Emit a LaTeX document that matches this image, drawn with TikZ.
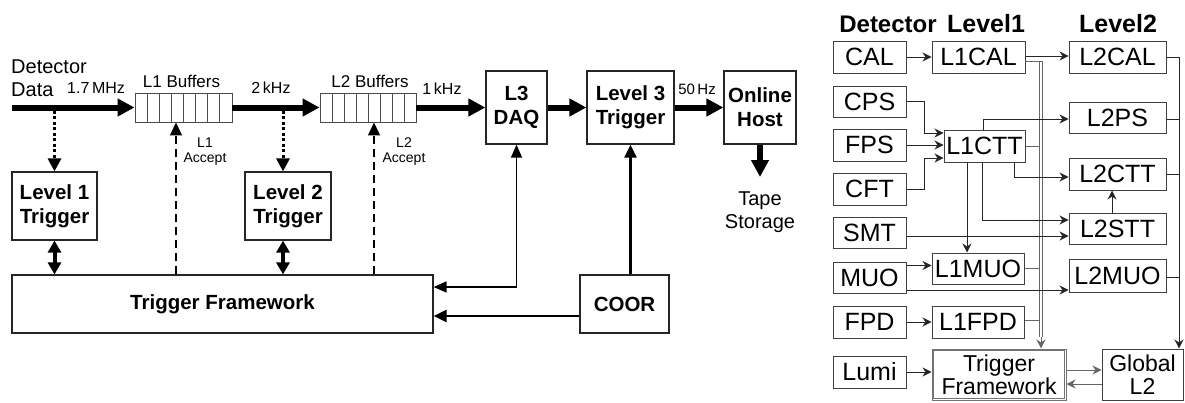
\documentclass[tikz,border=0pt]{standalone}
\usepackage{fontspec}
\setmainfont{Liberation Sans}
\usetikzlibrary{arrows.meta}
\begin{document}
\begin{tikzpicture}[x=1pt,y=-1pt,
 lbox/.style={draw=black!85, line width=1.2pt, inner sep=0pt, align=center, font=\fontsize{20.5}{24}\selectfont\bfseries},
 rbox/.style={draw=black!75, line width=1pt, inner sep=0pt, align=center, font=\fontsize{25}{25}\selectfont},
 r2box/.style={draw=black!75, line width=1pt, inner sep=0pt, align=center, font=\fontsize{23}{23}\selectfont},
 buf/.style={draw=black!70, line width=0.9pt, inner sep=0pt, minimum width=97pt, minimum height=29pt},
 lbl/.style={inner sep=0pt, anchor=base},
 bigarrow/.style={line width=6pt, -{Triangle[length=17pt,width=17pt]}},
 dotarrow/.style={line width=3pt, dash pattern=on 3pt off 2.5pt, -{Triangle[length=13pt,width=13pt]}},
 dblarrow/.style={line width=4pt, {Triangle[length=12pt,width=13pt]}-{Triangle[length=12pt,width=13pt]}},
 dasharrow/.style={line width=1.2pt, dash pattern=on 8pt off 5pt, -{Triangle[length=13pt,width=12pt]}},
 thinarrow/.style={line width=1.5pt, {Triangle[length=13pt,width=11pt]}-{Triangle[length=13pt,width=11pt]}},
 medarrow/.style={line width=2.5pt, -{Triangle[length=13pt,width=12pt]}},
 rarrow/.style={line width=1pt, draw=black!85, -{Stealth[length=9pt,width=9pt]}},
 rline/.style={line width=1pt, draw=black!85},
 busline/.style={line width=1pt, draw=black!60},
 busfeed/.style={line width=1pt, draw=black!60},
]
\useasboundingbox (0,0) rectangle (1185,402);

% ---------------- left part ----------------
\node[lbox, minimum width=85pt, minimum height=68pt] (L1T) at (54.5,206) {Level 1\\Trigger};
\node[lbox, minimum width=86pt, minimum height=68pt] (L2T) at (288,206) {Level 2\\Trigger};
\node[lbox, minimum width=421pt, minimum height=58pt] (TF) at (222.5,304) {Trigger Framework};
\node[buf] (B1) at (183.5,107.5) {};
\node[buf, minimum width=96pt] (B2) at (368,107.5) {};
\foreach \i in {1,...,7} {
  \draw[draw=black!70, line width=0.9pt] (135+\i*12.125,93) -- (135+\i*12.125,122);
  \draw[draw=black!70, line width=0.9pt] (320+\i*12,93) -- (320+\i*12,122);
}
\node[lbox, minimum width=61pt, minimum height=73pt] (DAQ) at (516.5,107.5) {L3\\DAQ};
\node[lbox, minimum width=87pt, minimum height=73pt] (L3T) at (630.5,107.5) {Level 3\\Trigger};
\node[lbox, minimum width=72pt, minimum height=73pt] (OH) at (760,107.5) {Online\\Host};
\node[lbox, minimum width=89pt, minimum height=58pt] (COOR) at (624.5,304) {COOR};

\node[lbl, anchor=base west, font=\fontsize{20}{23}\selectfont] (t1) at (11,73) {Detector};
\node[lbl, anchor=base west, font=\fontsize{20}{23}\selectfont] (t2) at (11,96) {Data};
\node[lbl, anchor=base west, font=\fontsize{16}{20}\selectfont] (r1) at (67,93) {1.7\,MHz};
\node[lbl, font=\fontsize{17}{20}\selectfont] (b1l) at (181.5,87) {L1 Buffers};
\node[lbl, font=\fontsize{16}{20}\selectfont] (r2) at (271,93) {2\,kHz};
\node[lbl, font=\fontsize{17}{20}\selectfont] (b2l) at (370,87) {L2 Buffers};
\node[lbl, font=\fontsize{16}{20}\selectfont] (r3) at (442,94) {1\,kHz};
\node[lbl, font=\fontsize{15}{18}\selectfont] (r4) at (697,94) {50\,Hz};
\node[lbl, font=\fontsize{14}{17}\selectfont] (ac1a) at (205,147) {L1};
\node[lbl, font=\fontsize{14}{17}\selectfont] (ac1b) at (205,162) {Accept};
\node[lbl, font=\fontsize{14}{17}\selectfont] (ac2a) at (404,147) {L2};
\node[lbl, font=\fontsize{14}{17}\selectfont] (ac2b) at (404,162) {Accept};
\node[lbl, font=\fontsize{20}{24}\selectfont] (tp1) at (760,205) {Tape};
\node[lbl, font=\fontsize{20}{24}\selectfont] (tp2) at (760,228) {Storage};

\coordinate (src) at (12,107.5);
\coordinate (tapeEnd) at (760,177);
\draw[bigarrow] (src) -- (B1.west);
\draw[bigarrow] (B1.east) -- (B2.west);
\draw[bigarrow] (B2.east) -- (DAQ.west);
\draw[bigarrow] (DAQ.east) -- (L3T.west);
\draw[bigarrow] (L3T.east) -- (OH.west);
\draw[bigarrow] (OH.south) -- (tapeEnd);

\coordinate (d1) at (54.5,110.5);
\coordinate (d2) at (283,110.5);
\draw[dotarrow] (d1) -- (d1 |- L1T.north);
\draw[dotarrow] (d2) -- (d2 |- L2T.north);
\draw[dblarrow] (L1T.south) -- (L1T.south |- TF.north);
\draw[dblarrow] (L2T.south -| d2) -- (TF.north -| d2);

\coordinate (a1) at (176,0);
\coordinate (a2) at (374,0);
\draw[dasharrow] (TF.north -| a1) -- (B1.south -| a1);
\draw[dasharrow] (TF.north -| a2) -- (B2.south -| a2);

\draw[thinarrow] ([yshift=17pt]TF.east) -| (DAQ.south);
\draw[medarrow] ([yshift=-12pt]COOR.west) -- ([yshift=-12pt]TF.east);
\draw[medarrow] (COOR.north -| L3T.south) -- (L3T.south);

% ---------------- right part ----------------
\node[lbl, font=\fontsize{24}{24}\selectfont\bfseries] (hD) at (888,32) {Detector};
\node[lbl, font=\fontsize{25}{25}\selectfont\bfseries] (hL1) at (986,32) {Level1};
\node[lbl, font=\fontsize{25}{25}\selectfont\bfseries] (hL2) at (1118,32) {Level2};

\node[rbox, minimum width=73pt, minimum height=32pt] (CAL) at (869.5,57) {CAL};
\node[rbox, minimum width=73pt, minimum height=31pt] (CPS) at (869.5,101.5) {CPS};
\node[rbox, minimum width=73pt, minimum height=32pt] (FPS) at (869.5,145) {FPS};
\node[rbox, minimum width=73pt, minimum height=32pt] (CFT) at (869.5,189) {CFT};
\node[rbox, minimum width=73pt, minimum height=31pt] (SMT) at (869.5,232.5) {SMT};
\node[rbox, minimum width=73pt, minimum height=31pt] (MUO) at (869.5,277.5) {MUO};
\node[rbox, minimum width=73pt, minimum height=32pt] (FPD) at (869.5,322) {FPD};
\node[rbox, minimum width=73pt, minimum height=32pt] (Lumi) at (869.5,372) {Lumi};

\node[rbox, minimum width=93pt, minimum height=32pt] (L1CAL) at (978.5,57) {L1CAL};
\node[rbox, minimum width=81pt, minimum height=32pt] (L1CTT) at (984.5,146) {L1CTT};
\node[rbox, minimum width=92pt, minimum height=31pt] (L1MUO) at (978,268.5) {L1MUO};
\node[rbox, minimum width=92pt, minimum height=32pt] (L1FPD) at (978,322) {L1FPD};
\node[r2box, draw=black!55, minimum width=134pt, minimum height=51pt] (TFr) at (999,374.5) {Trigger\\Framework};
\draw[draw=black!55, line width=1pt] ([xshift=2.4pt,yshift=-2.4pt]TFr.north west) rectangle ([xshift=-2.4pt,yshift=2.4pt]TFr.south east);
\node[r2box, minimum width=81pt, minimum height=51pt] (GL2) at (1142.5,374.5) {Global\\L2};

\node[rbox, minimum width=97pt, minimum height=32pt] (L2CAL) at (1117.5,57) {L2CAL};
\node[rbox, minimum width=97pt, minimum height=31pt] (L2PS) at (1117.5,117.5) {L2PS};
\node[rbox, minimum width=97pt, minimum height=32pt] (L2CTT) at (1117.5,174) {L2CTT};
\node[rbox, minimum width=97pt, minimum height=31pt] (L2STT) at (1117.5,228.5) {L2STT};
\node[rbox, minimum width=97pt, minimum height=33pt] (L2MUO) at (1117.5,275.5) {L2MUO};

% bus to trigger framework
\coordinate (bt) at (1041,61);
\coordinate (bb) at (1041,337);
\coordinate (btl) at (1039.6,61);
\coordinate (btr) at (1042.4,61);
\draw[busfeed] ([yshift=-4pt]L1CAL.east) -- (btr);
\draw[busfeed] (L1CTT.east) -- (L1CTT.east -| btl);
\draw[busfeed] (L1MUO.east) -- (L1MUO.east -| btl);
\draw[busfeed] ([yshift=2pt]L1FPD.east) -- ([yshift=2pt]L1FPD.east -| btl);
\draw[busline] (btl) -- (btl |- bb);
\draw[busline] (btr) -- (btr |- bb);
\draw[rarrow, draw=black!60] (bb) -- (TFr.north -| bb);

\draw[rarrow] (CAL.east) -- (L1CAL.west);
\draw[rarrow] ([yshift=1pt]L1CAL.east) -- ([yshift=1pt]L2CAL.west);

\coordinate (j1) at (924,0);
\draw[rarrow] (CPS.east) -- (CPS.east -| j1) |- ([yshift=13pt]L1CTT.west);
\draw[rarrow] (FPS.east) -- (FPS.east -| L1CTT.west);
\draw[rarrow] (CFT.east) -- (CFT.east -| j1) |- ([yshift=-12pt]L1CTT.west);

\coordinate (k1) at (983,0);
\coordinate (k2) at (1014,0);
\coordinate (k3) at (982,0);
\coordinate (k4) at (967,0);
\coordinate (k5) at (1112,0);
\draw[rarrow] (L1CTT.north -| k1) |- ([yshift=-1.5pt]L2PS.west);
\draw[rarrow] (L1CTT.south -| k2) |- ([yshift=-3pt]L2CTT.west);
\draw[rarrow] (L1CTT.south -| k3) |- ([yshift=8.5pt]L2STT.west);
\draw[rarrow] (L1CTT.south -| k4) -- (L1MUO.north -| k4);
\draw[rarrow] ([yshift=-3.5pt]SMT.east) -- ([yshift=-3.5pt]SMT.east -| L2STT.west);
\draw[rarrow] (L2STT.north -| k5) -- (L2CTT.south -| k5);
\draw[rarrow] ([yshift=12pt]MUO.east) -- ([yshift=12pt]MUO.east -| L1MUO.west);
\draw[rarrow] ([yshift=-12.5pt]MUO.east) -- ([yshift=-12.5pt]MUO.east -| L2MUO.west);
\draw[rarrow] (FPD.east) -- (L1FPD.west);
\draw[rarrow] (Lumi.east) -- (Lumi.east -| TFr.west);

\coordinate (g) at (1179,0);
\draw[rline] (L2CAL.east) -- (L2CAL.east -| g);
\draw[rline] ([yshift=-1.5pt]L2PS.east) -- ([yshift=-1.5pt]L2PS.east -| g);
\draw[rline] (L2CTT.east) -- (L2CTT.east -| g);
\draw[rline] ([yshift=-1.5pt]L2MUO.east) -- ([yshift=-1.5pt]L2MUO.east -| g);
\draw[rarrow] (L2CAL.east -| g) -- (GL2.north -| g);

\draw[rarrow, draw=black!60] ([yshift=4.5pt]TFr.east) -- ([yshift=4.5pt]GL2.west);
\draw[rarrow, draw=black!60] ([yshift=-9.5pt]GL2.west) -- ([yshift=-9.5pt]TFr.east);
\end{tikzpicture}
\end{document}
